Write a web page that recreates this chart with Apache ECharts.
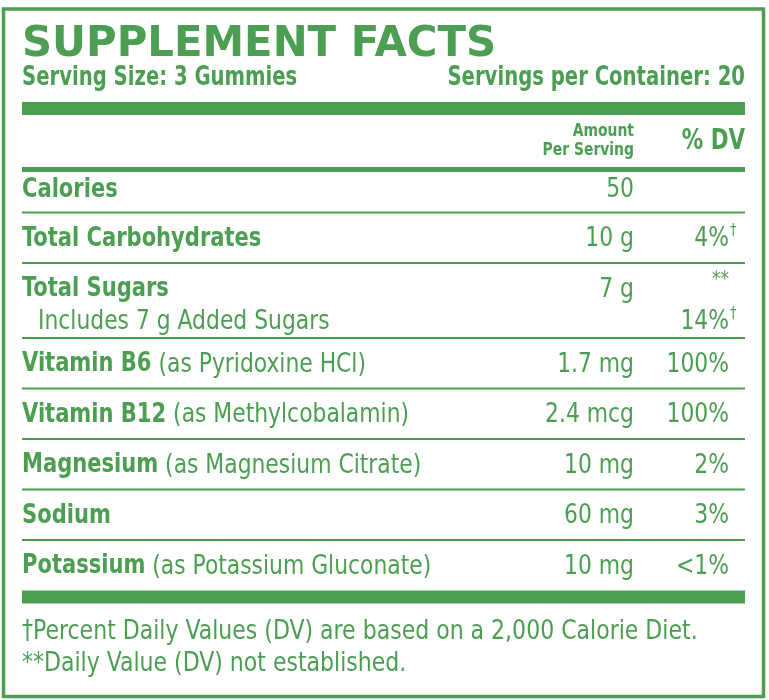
<!DOCTYPE html>
<html>
<head>
<meta charset="utf-8">
<title>Supplement Facts</title>
<script src="https://cdn.jsdelivr.net/npm/echarts@6/dist/echarts.min.js"></script>
<style>
  html, body { margin: 0; padding: 0; background: #fff; }
  #chart { width: 769px; height: 700px; }
</style>
</head>
<body>
<div id="chart"></div>
<script>
// header texts
var title = 'SUPPLEMENT FACTS';
var servingSize = 'Serving Size: 3 Gummies';
var servingsPerContainer = 'Servings per Container: 20';
var amountHeader = ['Amount', 'Per Serving'];
var dvHeader = '% DV';

// table rows
var nutrients = ['Calories', 'Total Carbohydrates', 'Total Sugars', 'Vitamin B6', 'Vitamin B12', 'Magnesium', 'Sodium', 'Potassium'];
var sources = ['', '', '', '(as Pyridoxine HCl)', '(as Methylcobalamin)', '(as Magnesium Citrate)', '', '(as Potassium Gluconate)'];
var amounts = ['50', '10 g', '7 g', '1.7 mg', '2.4 mcg', '10 mg', '60 mg', '10 mg'];
var dailyValues = ['', '4%', '**', '100%', '100%', '2%', '3%', '<1%'];
var dvMarks = ['', '†', '', '', '', '', '', ''];
var subLabels = ['', '', 'Includes 7 g Added Sugars', '', '', '', '', ''];
var subDailyValues = ['', '', '14%', '', '', '', '', ''];
var subDvMarks = ['', '', '†', '', '', '', '', ''];

var footnotes = [
  '†Percent Daily Values (DV) are based on a 2,000 Calorie Diet.',
  '**Daily Value (DV) not established.'
];

var green = '#4C9E52';
var narrow = '"DejaVu Sans Condensed", "Liberation Sans Narrow", sans-serif';
var wide = '"DejaVu Sans", sans-serif';
var squeeze = 0.9; // the label font is narrower than DejaVu Condensed
var boldSize = 26, regSize = 27;

// layout of the table (pixel units on the hidden axes)
var leftX = 22, rightX = 745, amountX = 634, dvX = 729;
var rowH = 50.5, subRowH = 75;
var rowTops = [];
var y0 = 162;
nutrients.forEach(function (n, i) {
  rowTops.push(y0);
  y0 += subLabels[i] ? subRowH : rowH;
});
var tableBottom = y0;

// text placed at pos, squeezed horizontally around its anchor
function txt(text, pos, align, size, bold, sx) {
  return {
    type: 'text',
    x: pos[0], y: pos[1],
    scaleX: sx || squeeze,
    style: {
      text: text, x: 0, y: 0, align: align || 'left', verticalAlign: 'middle',
      font: (bold ? 'bold ' : '') + size + 'px ' + narrow, fill: green
    }
  };
}

function renderRow(params, api) {
  var i = api.value(0);
  var top = rowTops[i];
  var h = subLabels[i] ? subRowH : rowH;
  var mid = top + (i === 0 ? 28 : 26.5);
  var children = [];

  var label = '{b|' + nutrients[i] + '}' + (sources[i] ? '{r| ' + sources[i] + '}' : '');
  var p = api.coord([leftX, mid]);
  children.push({
    type: 'text',
    x: p[0], y: p[1], scaleX: squeeze,
    style: {
      text: label, x: 0, y: 0, verticalAlign: 'middle', align: 'left',
      rich: {
        b: { fontFamily: narrow, fontWeight: 'bold', fontSize: boldSize, fill: green },
        r: { fontFamily: narrow, fontSize: regSize, fill: green }
      }
    }
  });
  children.push(txt(amounts[i], api.coord([amountX, mid]), 'right', regSize));
  if (dailyValues[i] === '**') {
    children.push(txt(dailyValues[i], api.coord([dvX, mid - 9]), 'right', 21));
  } else if (dailyValues[i]) {
    children.push(txt(dailyValues[i], api.coord([dvX, mid]), 'right', regSize));
  }
  if (dvMarks[i]) {
    children.push(txt(dvMarks[i], api.coord([dvX + 1, mid - 8]), 'left', 16));
  }
  if (subLabels[i]) {
    var sub = mid + 32;
    children.push(txt(subLabels[i], api.coord([leftX + 16, sub]), 'left', regSize));
    children.push(txt(subDailyValues[i], api.coord([dvX, sub]), 'right', regSize));
    children.push(txt(subDvMarks[i], api.coord([dvX + 1, sub - 8]), 'left', 16));
  }
  // separator under the row
  if (i < nutrients.length - 1) {
    var a = api.coord([leftX, top + h]);
    var b = api.coord([rightX, top + h]);
    children.push({
      type: 'rect',
      shape: { x: a[0], y: a[1] - 1, width: b[0] - a[0], height: 2 },
      style: { fill: green }
    });
  }
  return { type: 'group', children: children };
}

var chart = echarts.init(document.getElementById('chart'), null, { renderer: 'canvas' });
chart.setOption({
  animation: false,
  grid: { left: 0, right: 0, top: 0, bottom: 0 },
  xAxis: { type: 'value', min: 0, max: 769, show: false },
  yAxis: { type: 'value', min: 0, max: 700, inverse: true, show: false },
  graphic: [
    { type: 'rect', shape: { x: 3.5, y: 9, width: 760, height: 687.5 }, style: { fill: 'none', stroke: green, lineWidth: 3.5 } },
    { type: 'text', style: { text: title, x: leftX, y: 45, verticalAlign: 'middle', font: 'bold 41.8px ' + wide, fill: green } },
    txt(servingSize, [leftX, 78], 'left', 26, true, 0.84),
    txt(servingsPerContainer, [rightX, 78], 'right', 26, true, 0.84),
    { type: 'rect', shape: { x: leftX, y: 102, width: rightX - leftX, height: 13 }, style: { fill: green } },
    txt(amountHeader[0], [amountX, 131.5], 'right', 18, true, 0.86),
    txt(amountHeader[1], [amountX, 150], 'right', 18, true, 0.86),
    txt(dvHeader, [rightX, 141.5], 'right', 28, true, 0.85),
    { type: 'rect', shape: { x: leftX, y: 167, width: rightX - leftX, height: 5 }, style: { fill: green } },
    { type: 'rect', shape: { x: leftX, y: tableBottom, width: rightX - leftX, height: 13 }, style: { fill: green } },
    txt(footnotes[0], [leftX, 632], 'left', regSize, false, 0.907),
    txt(footnotes[1], [leftX, 664], 'left', regSize, false, 0.907)
  ],
  series: [{
    type: 'custom',
    renderItem: renderRow,
    data: nutrients.map(function (n, i) { return [i]; }),
    silent: true
  }]
});
</script>
</body>
</html>
